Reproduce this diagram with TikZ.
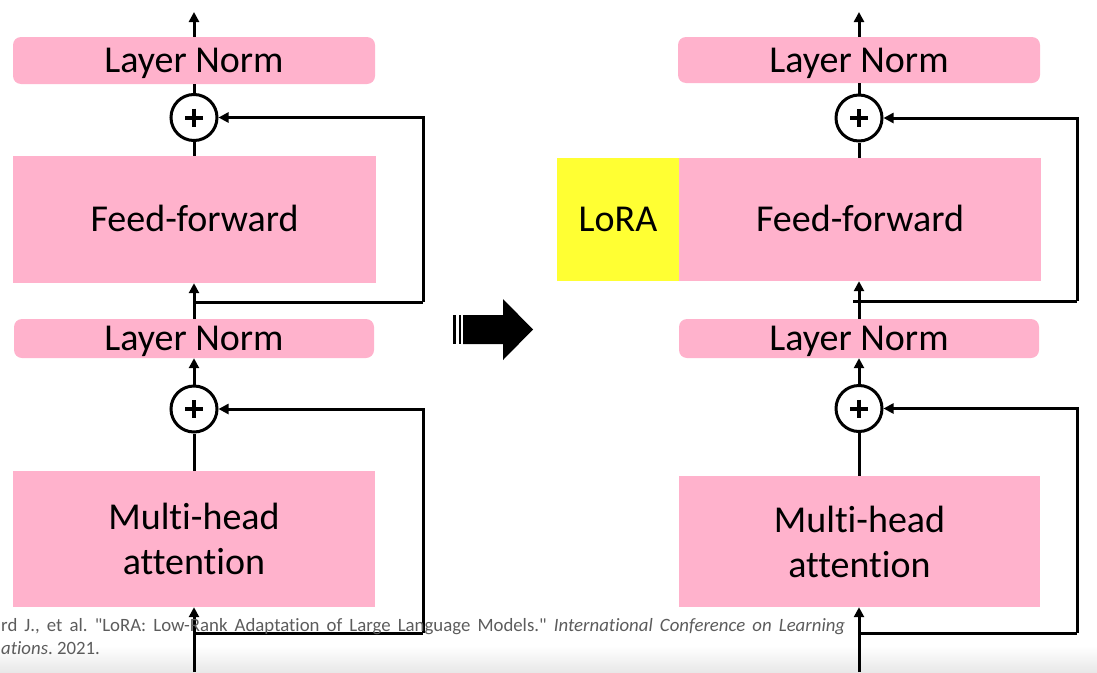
\documentclass[tikz,border=0pt]{standalone}
\usepackage{fontspec}
\setmainfont{Carlito}[Ligatures={TeXOff,NoCommon}]
\usetikzlibrary{arrows.meta}
\definecolor{pinkbox}{RGB}{255,178,204}
\definecolor{lorayellow}{RGB}{255,255,51}
\definecolor{citegray}{RGB}{92,92,92}
\frenchspacing
\begin{document}
\begin{tikzpicture}[x=1pt,y=-1pt,
  box/.style={fill=pinkbox, draw=none, inner sep=0pt, font=\fontsize{38}{45}\selectfont, align=center},
  onebox/.style={box, text height=24.5pt, text depth=0pt},
  lnbox/.style={onebox, rounded corners=8pt},
  sumnode/.style={circle, draw, line width=3pt, fill=white, minimum size=46pt, inner sep=0pt},
  conn/.style={line width=3pt},
  arr/.style={conn, -{Triangle[length=10pt,width=10pt]}},
  plusbar/.style={line width=4pt},
  citetext/.style={anchor=base west, inner sep=0pt, text=citegray, font=\fontsize{18.8}{22}\selectfont},
  bigarrow/.style={fill=black, draw=none}
]
\useasboundingbox (0,0) rectangle (1097,672);
\shade[top color=white, bottom color=black!9] (0,646) rectangle (1097,672);

% ---------- left column ----------
\node[lnbox, minimum width=362pt, minimum height=47pt] (LN1) at (194,60.5) {Layer Norm};
\node[onebox, minimum width=363pt, minimum height=127pt] (FF1) at (194.5,219.5) {Feed-forward};
\node[lnbox, minimum width=360pt, minimum height=39pt] (LN2) at (194,338.5) {Layer Norm};
\node[box, minimum width=362pt, minimum height=136pt] (MHA1) at (194,539) {Multi-head\\attention};
\node[sumnode] (c1) at (194,117.5) {};
\node[sumnode] (c2) at (194,409) {};

\coordinate (out1) at (194,12);
\coordinate (in1) at (194,672);
\coordinate (b1) at (194,302);
\coordinate (s1) at (423,302);
\coordinate (b2) at (194,633);
\coordinate (s2) at (423,633);

\draw[arr] (LN1.north) -- (out1);
\draw[conn] (c1.north) -- (LN1.south);
\draw[conn] (FF1.north -| c1) -- (c1.south);
\draw[arr] (LN2.north) -- (FF1.south -| LN2.north);
\draw[conn] (b1) -- (s1);
\draw[arr] (s1) |- (c1.east);
\draw[arr] (c2.north) -- (LN2.south);
\draw[conn] (MHA1.north) -- (c2.south);
\draw[arr] (in1) -- (MHA1.south);
\draw[conn] (b2) -- (s2);
\draw[arr] (s2) |- (c2.east);

% ---------- right column ----------
\node[lnbox, minimum width=362pt, minimum height=46pt] (LN3) at (859,60) {Layer Norm};
\node[onebox, minimum width=362pt, minimum height=123pt] (FF2) at (860,219.5) {Feed-forward};
\node[onebox, fill=lorayellow, minimum width=122pt, minimum height=123pt] (LoRA) at (618,219.5) {LoRA};
\node[lnbox, minimum width=360pt, minimum height=39pt] (LN4) at (859,338.5) {Layer Norm};
\node[box, minimum width=361pt, minimum height=131pt] (MHA2) at (859.5,541.5) {Multi-head\\attention};
\node[sumnode] (c3) at (859,118) {};
\node[sumnode] (c4) at (859,408.5) {};

\coordinate (out2) at (859,12);
\coordinate (in2) at (859,672);
\coordinate (b3) at (853,301);
\coordinate (s3) at (1077,301);
\coordinate (b4) at (859,633);
\coordinate (s4) at (1077,633);

\draw[arr] (LN3.north) -- (out2);
\draw[conn] (c3.north) -- (LN3.south);
\draw[conn] (FF2.north -| c3) -- (c3.south);
\draw[arr] (LN4.north) -- (FF2.south -| LN4.north);
\draw[conn] (b3) -- (s3);
\draw[arr] (s3) |- (c3.east);
\draw[arr] (c4.north) -- (LN4.south);
\draw[conn] (MHA2.north -| c4) -- (c4.south);
\draw[arr] (in2) -- (MHA2.south -| in2);
\draw[conn] (b4) -- (s4);
\draw[arr] (s4) |- (c4.east);

% plus signs
\foreach \c in {c1,c2,c3,c4}{
  \draw[plusbar] (\c.center) ++(-9,0) -- ++(18,0);
  \draw[plusbar] (\c.center) ++(0,-9) -- ++(0,18);
}

% ---------- big middle arrow ----------
\fill[bigarrow] (453,315) rectangle (456,344);
\fill[bigarrow] (458.5,315) rectangle (461,344);
\fill[bigarrow] (463,315) -- (503,315) -- (503,299) -- (533,329.5) -- (503,360) -- (503,344) -- (463,344) -- cycle;

% ---------- citation ----------
\node[citetext] (cite1) at (1,631) {\makebox[844pt][s]{rd J., et al. "LoRA: Low-Rank Adaptation of Large Language Models." \textit{International Conference on Learning}}};
\node[citetext] (cite2) at (1,654) {\textit{ations}. 2021.};
\end{tikzpicture}
\end{document}
